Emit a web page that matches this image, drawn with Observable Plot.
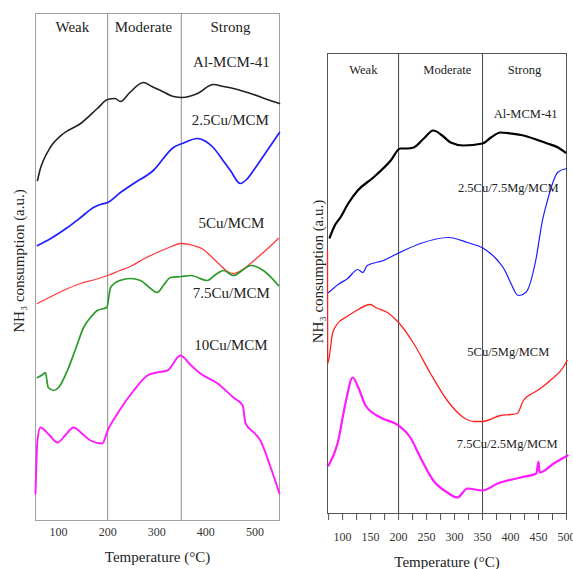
<!DOCTYPE html>
<html>
<head>
<meta charset="utf-8">
<script src="https://cdn.jsdelivr.net/npm/d3@7"></script>
<script src="https://cdn.jsdelivr.net/npm/@observablehq/plot@0.6"></script>
<style>
  html, body { margin: 0; padding: 0; background: #fff; }
  #wrap { position: relative; width: 573px; height: 569px; overflow: hidden; background: #fff; }
  #left, #right { position: absolute; top: 0; }
  #left { left: 0; }
  #right { left: 290px; }
  #wrap svg, #wrap svg text { font-family: "Liberation Serif", "Times New Roman", serif !important; }
</style>
</head>
<body>
<div id="wrap"><div id="left"></div><div id="right"></div></div>
<script>
// ---------- shared text ----------
const regionNames = ["Weak", "Moderate", "Strong"];
const regionBounds = [200, 350];
const xTitle = "Temperature (°C)";
const yTitle = "NH₃ consumption (a.u.)";

// ---------- left panel (Cu/MCM) : [temperature °C, signal a.u.] ----------
const leftTicks = [100, 200, 300, 400, 500];
const leftRegionX = [128, 273, 450];
const leftNames = ["Al-MCM-41", "2.5Cu/MCM", "5Cu/MCM", "7.5Cu/MCM", "10Cu/MCM"];
const leftLabelX = [452, 450, 452, 452, 451];
const leftLabelY = [458, 400, 297, 227, 175];

const alMCM = [[57,340],[63,352],[69,360],[83,373],[110,387],[145,397],[179,412],[200,421],[215,422],[226,419],[245,428],[273,438],[290,434],[308,430],[334,424],[352,423],[383,427],[415,436],[436,434],[456,432],[497,426],[525,421],[550,417]];
const cu25 = [[57,275],[84,282],[118,293],[145,303],[171,313],[185,316],[200,318],[226,328],[253,337],[293,350],[334,373],[352,377],[383,382],[400,379],[415,373],[435,360],[450,350],[470,337],[483,341],[497,350],[525,370],[550,388]];
const cu5 = [[57,217],[85,224],[110,230],[145,237],[175,241],[200,245],[225,250],[246,254],[275,262],[301,268],[330,274],[348,277],[375,275],[395,271],[409,265],[428,256],[444,249],[456,247],[475,251],[491,257],[517,268],[548,282]];
const cu75 = [[57,143],[68,146],[73,148],[79,133],[90,130],[100,133],[118,150],[135,172],[151,193],[165,203],[179,210],[198,213],[206,233],[225,240],[246,242],[267,240],[285,233],[301,228],[315,236],[328,243],[350,244],[369,245],[403,240],[420,246],[436,250],[456,245],[474,250],[491,255],[517,250],[548,235]];
const cu10 = [[53,27],[57,80],[63,93],[80,86],[98,78],[115,86],[130,93],[150,86],[165,80],[189,77],[200,90],[220,107],[253,130],[281,145],[300,148],[322,150],[348,165],[370,155],[389,147],[424,137],[456,123],[475,115],[481,97],[500,87],[511,80],[532,53],[550,27]];

// ---------- right panel (Cu/Mg/MCM) ----------
const rightTickLabels = [100, 150, 200, 250, 300, 350, 400, 450, 500];
const rightTickMarks = [75, 100, 125, 150, 175, 200, 225, 250, 275, 300, 325, 350, 375, 400, 425, 450, 475, 500];
const rightRegionX = [137, 287, 425];
const rightNames = ["Al-MCM-41", "2.5Cu/7.5Mg/MCM", "5Cu/5Mg/MCM", "7.5Cu/2.5Mg/MCM"];
const rightLabelX = [427, 396, 396, 394];
const rightLabelY = [400, 326, 162, 70];

const alMCMr = [[77,276],[86,288],[96,296],[110,310],[127,323],[155,336],[186,353],[203,365],[215,365],[227,366],[245,375],[262,383],[278,378],[293,371],[316,368],[350,370],[365,376],[382,381],[400,380],[423,378],[446,374],[466,370],[485,366],[498,361]];
const cu25mg75 = [[75,221],[92,229],[109,235],[127,244],[136,241],[144,248],[173,253],[202,261],[239,270],[289,276],[323,271],[352,265],[377,253],[390,243],[400,231],[414,218],[422,219],[430,223],[445,253],[457,293],[466,313],[475,330],[484,341],[500,345]];
const cu5mg5 = [[73,263],[73.4,150],[82,180],[91,190],[105,196],[119,201],[150,209],[159,206],[180,201],[200,191],[227,170],[257,140],[287,113],[316,96],[335,92],[350,92],[382,98],[400,99],[412,100],[423,113],[448,123],[471,133],[494,146],[501,153]];
const cu75mg25 = [[75,48],[91,70],[105,110],[118,136],[128,126],[141,108],[168,96],[200,88],[221,76],[239,56],[262,33],[287,21],[305,16],[323,25],[350,23],[377,30],[418,36],[446,40],[450,52],[452,41],[477,50],[502,58]];

const serif = "Liberation Serif";
const px = d => d[0], py = d => d[1];
const txt = {fontFamily: serif, fill: "#222", lineAnchor: "middle", textAnchor: "middle"};

function labelRows(names, xs, ys) {
  return names.map((n, i) => ({name: n, x: xs[i], y: ys[i]}));
}

// ---------- left chart ----------
const left = Plot.plot({
  width: 290, height: 569,
  marginLeft: 35, marginRight: 11, marginTop: 13, marginBottom: 49,
  style: {fontFamily: serif, fontSize: "12px", background: "#fff", color: "#222"},
  x: {domain: [53, 550], label: null},
  y: {domain: [0, 507], axis: null},
  marks: [
    Plot.frame({stroke: "#a0a0a0"}),
    Plot.ruleX(regionBounds, {stroke: "#8c8c8c", strokeWidth: 1}),
    Plot.axisX({ticks: leftTicks, tickSize: 0, tickPadding: 7, label: null, fill: "#333", fontFamily: serif}),
    Plot.line(alMCM, {x: px, y: py, stroke: "#222", strokeWidth: 1.6, curve: "monotone-x"}),
    Plot.line(cu25, {x: px, y: py, stroke: "#1f1fff", strokeWidth: 1.7, curve: "monotone-x"}),
    Plot.line(cu5, {x: px, y: py, stroke: "#ff3b3b", strokeWidth: 1.3, curve: "monotone-x"}),
    Plot.line(cu75, {x: px, y: py, stroke: "#2a9a2a", strokeWidth: 1.7, curve: "monotone-x"}),
    Plot.line(cu10, {x: px, y: py, stroke: "#ff1aff", strokeWidth: 1.9, curve: "monotone-x"}),
    Plot.text(regionNames, {...txt, x: (d, i) => leftRegionX[i], frameAnchor: "top", dy: 14, text: d => d, fontSize: 15}),
    Plot.text(labelRows(leftNames, leftLabelX, leftLabelY), {...txt, x: "x", y: "y", text: "name", fontSize: 15}),
    Plot.text([xTitle], {...txt, frameAnchor: "bottom", dy: 37, text: d => d, fontSize: 15}),
    Plot.text([yTitle], {...txt, frameAnchor: "left", dx: -16, dy: -6, rotate: -90, text: d => d, fontSize: 15})
  ]
});
document.getElementById("left").appendChild(left);

// ---------- right chart ----------
const right = Plot.plot({
  width: 283, height: 569,
  marginLeft: 37, marginRight: 7, marginTop: 53, marginBottom: 56,
  style: {fontFamily: serif, fontSize: "12px", background: "#fff", color: "#222"},
  x: {domain: [73, 500], label: null},
  y: {domain: [0, 460], axis: null},
  marks: [
    Plot.frame({stroke: "#555"}),
    Plot.ruleX(regionBounds, {stroke: "#444", strokeWidth: 1}),
    Plot.axisX({ticks: rightTickMarks, tickSize: 7, tickFormat: () => "", label: null, stroke: "#555"}),
    Plot.axisX({ticks: rightTickLabels, tickSize: 0, tickPadding: 19, label: null, fill: "#333", fontFamily: serif}),
    Plot.line(alMCMr, {x: px, y: py, stroke: "#000", strokeWidth: 2.2, curve: "monotone-x"}),
    Plot.line(cu25mg75, {x: px, y: py, stroke: "#1a1aff", strokeWidth: 1.2, curve: "monotone-x"}),
    Plot.line(cu5mg5, {x: px, y: py, stroke: "#ff2020", strokeWidth: 1.3, curve: "monotone-x"}),
    Plot.line(cu75mg25, {x: px, y: py, stroke: "#ff1aff", strokeWidth: 2.2, curve: "monotone-x"}),
    Plot.text(regionNames, {...txt, x: (d, i) => rightRegionX[i], frameAnchor: "top", dy: 16, text: d => d, fontSize: 12.5}),
    Plot.text(labelRows(rightNames, rightLabelX, rightLabelY), {...txt, x: "x", y: "y", text: "name", fontSize: 12.5}),
    Plot.text([xTitle], {...txt, frameAnchor: "bottom", dy: 49, text: d => d, fontSize: 15}),
    Plot.text([yTitle], {...txt, frameAnchor: "left", dx: -9, dy: -12, rotate: -90, text: d => d, fontSize: 15})
  ]
});
document.getElementById("right").appendChild(right);
</script>
</body>
</html>
